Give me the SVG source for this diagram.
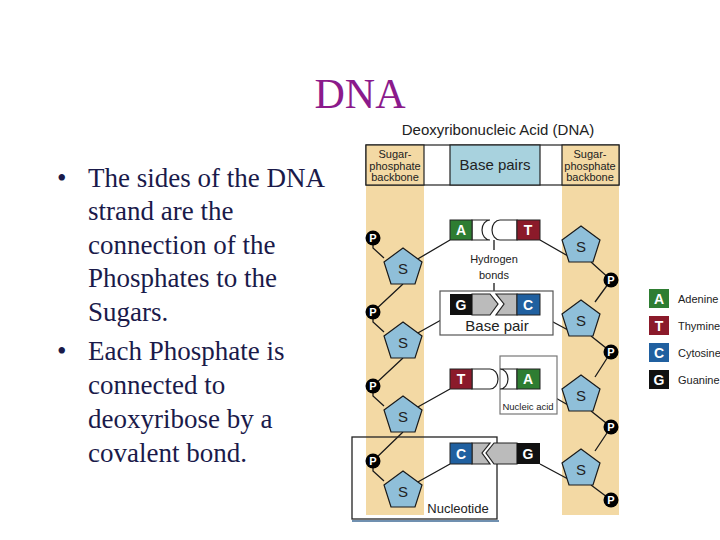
<svg xmlns="http://www.w3.org/2000/svg" width="720" height="540" viewBox="0 0 720 540">
<defs>
<style>
.t{font-family:"Liberation Serif",serif;font-size:27px;fill:#1a1a4a}
.s{font-family:"Liberation Sans",Arial,sans-serif}
.beige{fill:#f3d9a4}
.pent{fill:#8fbfd9;stroke:#1a1a1a;stroke-width:1.2}
.pc{fill:#000}
.pt{font-family:"Liberation Sans",sans-serif;font-size:11px;fill:#fff;font-weight:bold;text-anchor:middle}
.st{font-family:"Liberation Sans",sans-serif;font-size:15px;fill:#222;text-anchor:middle}
.bl{font-family:"Liberation Sans",sans-serif;font-size:14px;fill:#fff;font-weight:bold;text-anchor:middle}
.ln{stroke:#1a1a1a;stroke-width:1.3;fill:none}
.lg{font-family:"Liberation Sans",sans-serif;font-size:11px;fill:#222}
</style>
<g id="pent"><polygon points="0,-20 19,-6 12,16 -12,16 -19,-6"/></g>
</defs>
<rect width="720" height="540" fill="#fff"/>
<text x="360" y="108" text-anchor="middle" style="font-family:'Liberation Serif',serif;font-size:42px;fill:#8b1a8b">DNA</text>
<g id="bullets">
<text class="t" x="57" y="187">•</text><text class="t" x="88" y="187">The sides of the DNA</text>
<text class="t" x="88" y="220">strand are the</text>
<text class="t" x="88" y="254">connection of the</text>
<text class="t" x="88" y="287">Phosphates to the</text>
<text class="t" x="88" y="321">Sugars.</text>
<text class="t" x="57" y="360">•</text><text class="t" x="88" y="360">Each Phosphate is</text>
<text class="t" x="88" y="394">connected to</text>
<text class="t" x="88" y="428">deoxyribose by a</text>
<text class="t" x="88" y="462">covalent bond.</text>
</g>
<g id="figure">
<text class="s" x="498" y="135" text-anchor="middle" font-size="15" fill="#222">Deoxyribonucleic Acid (DNA)</text>
<rect class="beige" x="366" y="145" width="58" height="370"/>
<rect class="beige" x="562" y="145" width="57" height="370"/>
<rect x="366" y="145" width="253" height="40" fill="#fff" stroke="#222" stroke-width="1.2"/>
<rect class="beige" x="366" y="145" width="58" height="40" stroke="#222" stroke-width="1.2"/>
<rect class="beige" x="562" y="145" width="57" height="40" stroke="#222" stroke-width="1.2"/>
<rect x="450" y="145" width="90" height="40" fill="#a8d2de" stroke="#222" stroke-width="1.2"/>
<g class="s" font-size="11" fill="#222" text-anchor="middle">
<text x="395" y="158">Sugar-</text><text x="395" y="170">phosphate</text><text x="395" y="181">backbone</text>
<text x="590" y="158">Sugar-</text><text x="590" y="170">phosphate</text><text x="590" y="181">backbone</text>
</g>
<text class="st" x="495" y="170">Base pairs</text>
</g>
<g id="connectors" class="ln">
<path d="M373,238 L373,248 L384,258 M373,312 L373,322 L384,332 M373,386 L373,396 L384,406 M373,461 L373,471 L384,481"/>
<path d="M403,284 L373,312 M403,358 L373,386 M403,432 L373,461"/>
<path d="M416,260 L450,240 M416,334 L450,315 M416,408 L450,389 M416,483 L450,464"/>
<path d="M540,240 L568,256 M540,315 L568,330 M540,389 L568,405 M540,464 L568,479"/>
<path d="M591,262 L611,280 L595,302 M591,336 L611,352 L595,377 M591,411 L611,427 L595,451 M591,485 L611,500"/>
<path d="M494,240 L494,250 M494,283 L494,294"/>
</g>
<g id="backbone">
<g class="pent">
<use href="#pent" x="403" y="268"/><use href="#pent" x="403" y="342"/><use href="#pent" x="403" y="416"/><use href="#pent" x="403" y="491"/>
<use href="#pent" x="581" y="246"/><use href="#pent" x="581" y="320"/><use href="#pent" x="581" y="395"/><use href="#pent" x="581" y="469"/>
</g>
<g class="st"><text x="403" y="274">S</text><text x="403" y="348">S</text><text x="403" y="422">S</text><text x="403" y="497">S</text>
<text x="581" y="252">S</text><text x="581" y="326">S</text><text x="581" y="401">S</text><text x="581" y="475">S</text></g>
<g class="pc"><circle cx="373" cy="238" r="7.5"/><circle cx="373" cy="312" r="7.5"/><circle cx="373" cy="386" r="7.5"/><circle cx="373" cy="461" r="7.5"/>
<circle cx="611" cy="280" r="7.5"/><circle cx="611" cy="352" r="7.5"/><circle cx="611" cy="427" r="7.5"/><circle cx="611" cy="500" r="7.5"/></g>
<g class="pt"><text x="373" y="242">P</text><text x="373" y="316">P</text><text x="373" y="390">P</text><text x="373" y="465">P</text>
<text x="611" y="284">P</text><text x="611" y="356">P</text><text x="611" y="431">P</text><text x="611" y="504">P</text></g>
</g>
<g id="pair1">
<path d="M472,220 L490,220 A8,10 0 0 0 490,240 L472,240Z M517,220 L500,220 A8,10 0 0 0 500,240 L517,240Z" fill="#fff" stroke="#222" stroke-width="1.2"/>
<rect x="450" y="220" width="22" height="20" fill="#2e7d32" stroke="#222"/><rect x="517" y="220" width="23" height="20" fill="#8b1a2a" stroke="#222"/>
<text class="bl" x="461" y="235">A</text><text class="bl" x="528" y="235">T</text>
<text class="s" x="494" y="263" font-size="11" text-anchor="middle" fill="#222">Hydrogen</text>
<text class="s" x="494" y="279" font-size="11" text-anchor="middle" fill="#222">bonds</text>
</g>
<g id="pair2">
<rect x="440" y="291" width="113" height="44" fill="#fff" stroke="#555" stroke-width="1.2"/>
<path d="M472,294 L490,294 L498,304 L490,315 L472,315Z M517,294 L496,294 L504,304 L496,315 L517,315Z" fill="#bbb" stroke="#222" stroke-width="1.2"/>
<rect x="450" y="294" width="22" height="21" fill="#111"/><rect x="517" y="294" width="23" height="21" fill="#2060a0" stroke="#222"/>
<text class="bl" x="461" y="310">G</text><text class="bl" x="528" y="310">C</text>
<text class="st" x="497" y="331" font-size="14">Base pair</text>
</g>
<g id="pair3">
<rect x="500" y="356" width="57" height="58" fill="#fff" stroke="#777" stroke-width="1.2"/>
<path d="M472,369 L490,369 A8,10 0 0 1 490,389 L472,389Z M517,369 L500,369 A8,10 0 0 1 500,389 L517,389Z" fill="#fff" stroke="#222" stroke-width="1.2"/>
<rect x="450" y="369" width="22" height="20" fill="#8b1a2a" stroke="#222"/><rect x="517" y="369" width="23" height="20" fill="#2e7d32" stroke="#222"/>
<text class="bl" x="461" y="384">T</text><text class="bl" x="528" y="384">A</text>
<text class="s" x="528" y="410" font-size="9.5" text-anchor="middle" fill="#222">Nucleic acid</text>
</g>
<g id="pair4">
<rect x="352" y="437" width="145" height="82" fill="none" stroke="#222" stroke-width="1.3"/>
<line x1="352" y1="521" x2="499" y2="521" stroke="#7090b0" stroke-width="2"/>
<path d="M472,443 L490,443 L482,453 L490,464 L472,464Z M517,443 L494,443 L486,453 L494,464 L517,464Z" fill="#bbb" stroke="#222" stroke-width="1.2"/>
<rect x="450" y="443" width="22" height="21" fill="#2060a0" stroke="#222"/><rect x="517" y="443" width="23" height="21" fill="#111"/>
<text class="bl" x="461" y="459">C</text><text class="bl" x="528" y="459">G</text>
<text class="s" x="458" y="513" font-size="13" text-anchor="middle" fill="#222">Nucleotide</text>
</g>
<g id="legend">
<rect x="649" y="289" width="20" height="19" fill="#2e7d32"/><text class="bl" x="659" y="304">A</text><text class="lg" x="678" y="303">Adenine</text>
<rect x="649" y="316" width="20" height="19" fill="#8b1a2a"/><text class="bl" x="659" y="331">T</text><text class="lg" x="678" y="330">Thymine</text>
<rect x="649" y="343" width="20" height="19" fill="#2060a0"/><text class="bl" x="659" y="358">C</text><text class="lg" x="678" y="357">Cytosine</text>
<rect x="649" y="370" width="20" height="19" fill="#111"/><text class="bl" x="659" y="385">G</text><text class="lg" x="678" y="384">Guanine</text>
</g>
</svg>
